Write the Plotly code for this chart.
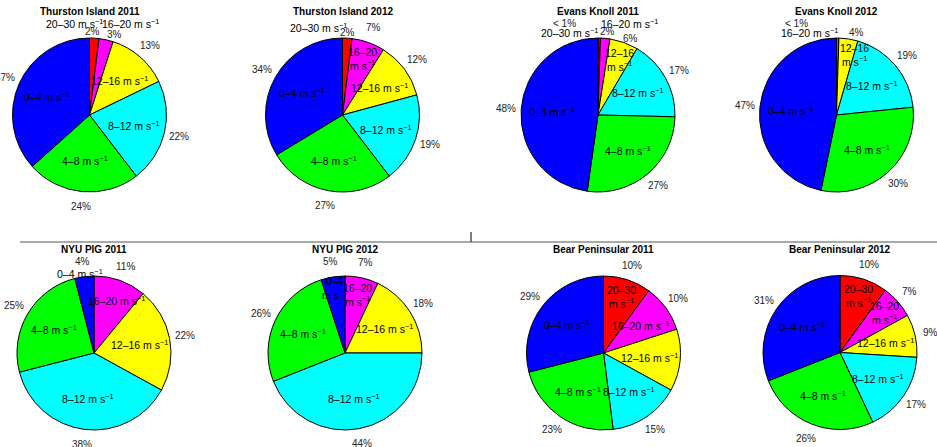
import math
import plotly.graph_objects as go

W, H = 937, 447

# Wind-speed bins in drawing order (clockwise from 12 o'clock)
SPEED_BINS = ["20–30", "16–20", "12–16", "8–12", "4–8", "0–4"]
BIN_COLORS = ["#ff0000", "#ff00ff", "#ffff00", "#00ffff", "#00ff00", "#0000ff"]

STATIONS = [
    "Thurston Island 2011", "Thurston Island 2012",
    "Evans Knoll 2011", "Evans Knoll 2012",
    "NYU PIG 2011", "NYU PIG 2012",
    "Bear Peninsular 2011", "Bear Peninsular 2012",
]

# Percentage of time in each bin (same order as SPEED_BINS); 0.5 stands for "< 1%"
thurston_2011 = [2, 3, 13, 22, 24, 37]
thurston_2012 = [2, 7, 12, 19, 27, 34]
evans_2011 = [0.5, 2, 6, 17, 27, 48]
evans_2012 = [0, 0.5, 4, 19, 30, 47]
nyu_2011 = [0, 11, 22, 38, 25, 4]
nyu_2012 = [0, 7, 18, 44, 26, 5]
bear_2011 = [10, 10, 13, 15, 23, 29]
bear_2012 = [10, 7, 9, 17, 26, 31]

SERIES = [thurston_2011, thurston_2012, evans_2011, evans_2012,
          nyu_2011, nyu_2012, bear_2011, bear_2012]

# ---- layout (pixels) ----
PIE_CENTERS = [(89.5, 115), (342.5, 115), (598, 115), (836.5, 115),
               (94, 353), (345, 353), (603.5, 353), (840, 352.5)]
RADIUS = 77
TITLE_Y = [12, 12, 12, 12, 249, 249, 249, 249]
CLIP_RIGHT = [187, W, 682, W, 187, W, 682, W]

NAME_R, WRAP_R, PCT_R = 0.6, 0.77, 1.2
# bins whose name is split over two lines
WRAPPED = {(1, "16–20"), (2, "12–16"), (3, "12–16"), (5, "0–4"), (5, "16–20"),
           (6, "20–30"), (7, "20–30"), (7, "16–20")}
# (radius factor, angle shift in degrees) for crowded labels
NAME_POS = {
    (0, "20–30"): (1.2, -12.6), (0, "16–20"): (1.3, 12),
    (1, "20–30"): (1.18, -18.6),
    (2, "20–30"): (1.13, -20), (2, "16–20"): (1.26, 13.6), (2, "12–16"): (0.77, 2),
    (3, "16–20"): (1.135, -19.2), (3, "12–16"): (0.81, 7.7),
    (4, "0–4"): (1.05, -3), (4, "16–20"): (0.74, 4),
    (5, "0–4"): (0.85, 0),
}
PCT_POS = {
    (0, "20–30"): (1.08, -1.6), (0, "16–20"): (1.09, 4.5),
    (1, "20–30"): (1.08, 0),
    (2, "20–30"): (1.26, -21), (2, "16–20"): (1.085, 1), (2, "12–16"): (1.08, 3),
    (3, "16–20"): (1.29, -24.4), (3, "12–16"): (1.1, 5),
}

FONT = "Liberation Sans, Arial, Helvetica, sans-serif"


def px(x, y):
    return x / W, 1 - y / H


fig = go.Figure()
annotations = []

for i, (title, vals) in enumerate(zip(STATIONS, SERIES)):
    cx, cy = PIE_CENTERS[i]
    x0, y1 = px(cx - RADIUS, cy - RADIUS)
    x1, y0 = px(cx + RADIUS, cy + RADIUS)
    fig.add_trace(go.Pie(
        labels=SPEED_BINS, values=vals, sort=False, direction="clockwise",
        rotation=0, textinfo="none", hoverinfo="label+value",
        marker=dict(colors=BIN_COLORS, line=dict(color="black", width=1)),
        domain=dict(x=[x0, x1], y=[y0, y1]), showlegend=False,
    ))

    tx, ty = px(cx, TITLE_Y[i])
    annotations.append(dict(text=f"<b>{title}</b>", x=tx, y=ty, xref="paper", yref="paper",
                            xanchor="center", yanchor="middle", showarrow=False,
                            font=dict(family=FONT, size=10, color="black")))

    total = sum(vals)
    cum = 0
    for b, v in zip(SPEED_BINS, vals):
        if v <= 0:
            continue
        mid = (cum + v / 2) / total * 360
        cum += v

        # bin name
        r, dth = NAME_POS.get((i, b), (WRAP_R if (i, b) in WRAPPED else NAME_R, 0))
        sep = "<br>" if (i, b) in WRAPPED else " "
        th = math.radians(mid + dth)
        lx, ly = cx + r * RADIUS * math.sin(th), cy - r * RADIUS * math.cos(th)
        ax, ay = px(lx, ly)
        annotations.append(dict(text=f"{b}{sep}m s<sup>−1</sup>", x=ax, y=ay,
                                xref="paper", yref="paper", xanchor="center",
                                yanchor="middle", showarrow=False,
                                font=dict(family=FONT, size=10.5, color="black")))

        # percentage
        r, dth = PCT_POS.get((i, b), (PCT_R, 0))
        th = math.radians(mid + dth)
        lx, ly = cx + r * RADIUS * math.sin(th), cy - r * RADIUS * math.cos(th)
        if lx > CLIP_RIGHT[i]:
            continue
        pct = "< 1%" if v < 1 else f"{v:g}%"
        ax, ay = px(lx, ly)
        annotations.append(dict(text=pct, x=ax, y=ay, xref="paper", yref="paper",
                                xanchor="center", yanchor="middle", showarrow=False,
                                font=dict(family=FONT, size=10, color="#222")))

# divider between the two rows
lx0, ly0 = px(20, 242)
lx1, _ = px(W, 242)
tkx, tky0 = px(471, 232)
fig.update_layout(
    width=W, height=H, margin=dict(l=0, r=0, t=0, b=0),
    paper_bgcolor="white", plot_bgcolor="white",
    annotations=annotations,
    shapes=[
        dict(type="line", xref="paper", yref="paper", x0=lx0, y0=ly0, x1=lx1, y1=ly0,
             line=dict(color="#555", width=1)),
        dict(type="line", xref="paper", yref="paper", x0=tkx, y0=ly0, x1=tkx, y1=tky0,
             line=dict(color="#555", width=1.5)),
    ],
)

fig.write_html("out.html")
